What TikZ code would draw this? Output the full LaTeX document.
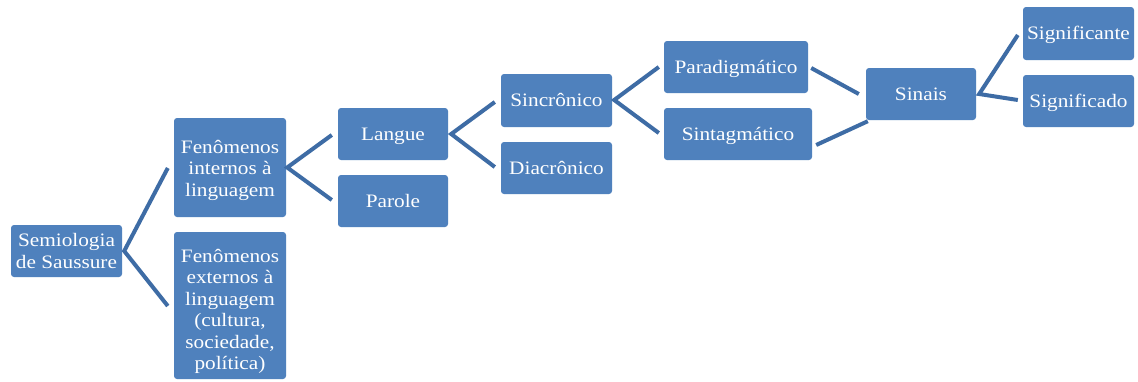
\documentclass[tikz,border=0pt]{standalone}
\usepackage{fontspec}
\setmainfont[FakeStretch=1.12]{Liberation Serif}
\definecolor{boxblue}{HTML}{4F81BD}
\definecolor{linkblue}{HTML}{3E6CA5}
\begin{document}
\begin{tikzpicture}[x=1pt,y=-1pt,
  box/.style={draw=none,fill=boxblue,rounded corners=3pt,text=white,align=center,
    inner sep=0pt,font=\fontsize{19}{21.5}\selectfont,text depth=0pt,text height=12.6pt},
  conn/.style={draw=linkblue,line width=4pt,line join=miter}]
\useasboundingbox (0,0) rectangle (1138,381);
\fill[white] (0,0) rectangle (1138,381);
% boxes
\node[box,text height=34.1pt,minimum width=111pt,minimum height=52pt] (sem) at (66.5,251) {Semiologia\\de Saussure};
\node[box,text height=57.6pt,minimum width=112pt,minimum height=99pt] (fint) at (230,167.5) {Fenômenos\\internos à\\linguagem};
\node[box,text height=128.9pt,minimum width=112pt,minimum height=147pt] (fext) at (230,305.5) {Fenômenos\\externos à\\linguagem\\(cultura,\\sociedade,\\política)};
\node[box,minimum width=110pt,minimum height=52pt] (langue) at (393,134) {Langue};
\node[box,minimum width=110pt,minimum height=52pt] (parole) at (393,201) {Parole};
\node[box,minimum width=111pt,minimum height=53pt] (sinc) at (556.5,100.5) {Sincrônico};
\node[box,minimum width=111pt,minimum height=52pt] (diac) at (556.5,168) {Diacrônico};
\node[box,minimum width=144pt,minimum height=52pt] (para) at (736,67) {Paradigmático};
\node[box,minimum width=148pt,minimum height=52pt] (sint) at (738,134) {Sintagmático};
\node[box,minimum width=110pt,minimum height=52pt] (sinais) at (921,94) {Sinais};
\node[box,minimum width=111pt,minimum height=53pt] (sig1) at (1078.5,33.5) {Significante};
\node[box,minimum width=111pt,minimum height=52pt] (sig2) at (1078.5,101) {Significado};
% connectors
\draw[conn] ([shift={(-6,0.5)}]fint.west) -- ([shift={(2,0)}]sem.east) -- ([shift={(-6,0.5)}]fext.west);
\draw[conn] ([shift={(-6,1)}]langue.west) -- ([shift={(1,0)}]fint.east) -- ([shift={(-6,-1)}]parole.west);
\draw[conn] ([shift={(-6,1.5)}]sinc.west) -- ([shift={(3,0)}]langue.east) -- ([shift={(-6,-1)}]diac.west);
\draw[conn] ([shift={(-5,0)}]para.west) -- ([shift={(2,-0.5)}]sinc.east) -- ([shift={(-5,-1)}]sint.west);
\draw[conn] ([shift={(3,1)}]para.east) -- ([shift={(-7,0)}]sinais.west);
\draw[conn] ([shift={(4,11)}]sint.east) -- ([shift={(2,1)}]sinais.south west);
\draw[conn] ([shift={(-5,1.5)}]sig1.west) -- ([shift={(3,0)}]sinais.east) -- ([shift={(-5,-1)}]sig2.west);
\end{tikzpicture}
\end{document}
